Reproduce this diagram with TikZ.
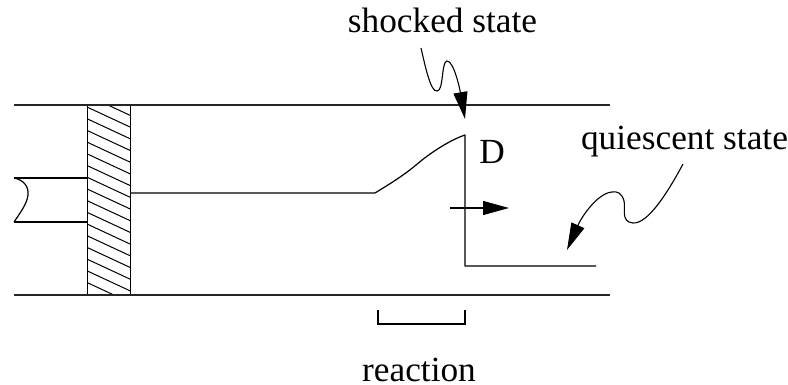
\documentclass[tikz,border=0pt]{standalone}
\usepackage{fontspec}
\setmainfont{Liberation Serif}
\usetikzlibrary{arrows.meta}
\tikzset{
  wall/.style={line width=1.3pt,draw=black!85},
  ln/.style={line width=1.2pt},
  hatchline/.style={line width=1pt},
  thin curve/.style={line width=1.1pt},
  bighead/.style={-{Triangle[length=27pt,width=14pt]}},
  midhead/.style={-{Triangle[length=26pt,width=14pt]}},
  lbl/.style={inner sep=0pt,font=\fontsize{35.3}{38}\selectfont}
}
\begin{document}
\begin{tikzpicture}[x=1pt,y=-1pt]
\useasboundingbox (0,0) rectangle (788,385);
% named points
\coordinate (tl) at (14,105); \coordinate (tr) at (610,105);
\coordinate (bl) at (14,295); \coordinate (br) at (610,295);
\coordinate (rodT) at (14,178); \coordinate (rodB) at (14,222);
\coordinate (pT) at (87,178); \coordinate (pB) at (87,222);
\coordinate (p0) at (130,193); \coordinate (p1) at (375,193);
\coordinate (peak) at (465,135); \coordinate (foot) at (465,266);
\coordinate (pend) at (596,266);
\coordinate (dS) at (450,208); \coordinate (dE) at (509,208);
\coordinate (s0) at (421,48); \coordinate (sT) at (465,119);
\coordinate (q0) at (683,164); \coordinate (qT) at (567,250);
\coordinate (b0) at (378,310); \coordinate (b1) at (378,324);
\coordinate (b2) at (465,324); \coordinate (b3) at (465,310);
% hatching
\begin{scope}
\clip (87,105) rectangle (130,295);
\foreach \i in {-3,...,16}
  \draw[hatchline] (87,{107+11.7*\i}) -- (130,{107+11.7*\i+20});
\end{scope}
\node[draw,line width=1.1pt,minimum width=43pt,minimum height=190pt,inner sep=0pt,anchor=north west] (piston) at (87,105) {};
% tube walls
\draw[wall] (tl) -- (tr);
\draw[wall] (bl) -- (br);
% rod
\draw[ln] (rodT) -- (pT);
\draw[ln] (rodB) -- (pB);
\draw[ln] (rodT) .. controls (24,180) and (29,187) .. (28,195) .. controls (27,204) and (20,213) .. (rodB);
% profile
\draw[ln,line join=round] (p0) -- (p1) .. controls (388,185) and (403,176) .. (416,165)
  .. controls (430,153) and (450,140) .. (peak) -- (foot) -- (pend);
% velocity arrow
\draw[ln,midhead] (dS) -- (dE);
% curly arrows
\draw[thin curve,bighead] (s0) .. controls (426,70) and (431,92) .. (437,91)
  .. controls (444,91) and (441,62) .. (447,61) .. controls (454,61) and (460,90) .. (sT);
\draw[thin curve,bighead] (q0) .. controls (668,192) and (648,224) .. (633,223)
  .. controls (620,222) and (626,207) .. (624,201) .. controls (622,193) and (617,191) .. (612,192)
  .. controls (598,193) and (582,216) .. (qT);
% bracket
\draw[ln] (b0) -- (b1) -- (b2) -- (b3);
% labels
\node[lbl,anchor=base] (shocked) at (442.5,33) {shocked state};
\node[lbl,anchor=base] (D) at (492,164) {D};
\node[lbl,anchor=base] (quiescent) at (684.5,150) {quiescent state};
\node[lbl,anchor=base] (reaction) at (419,381) {reaction};
\end{tikzpicture}
\end{document}
